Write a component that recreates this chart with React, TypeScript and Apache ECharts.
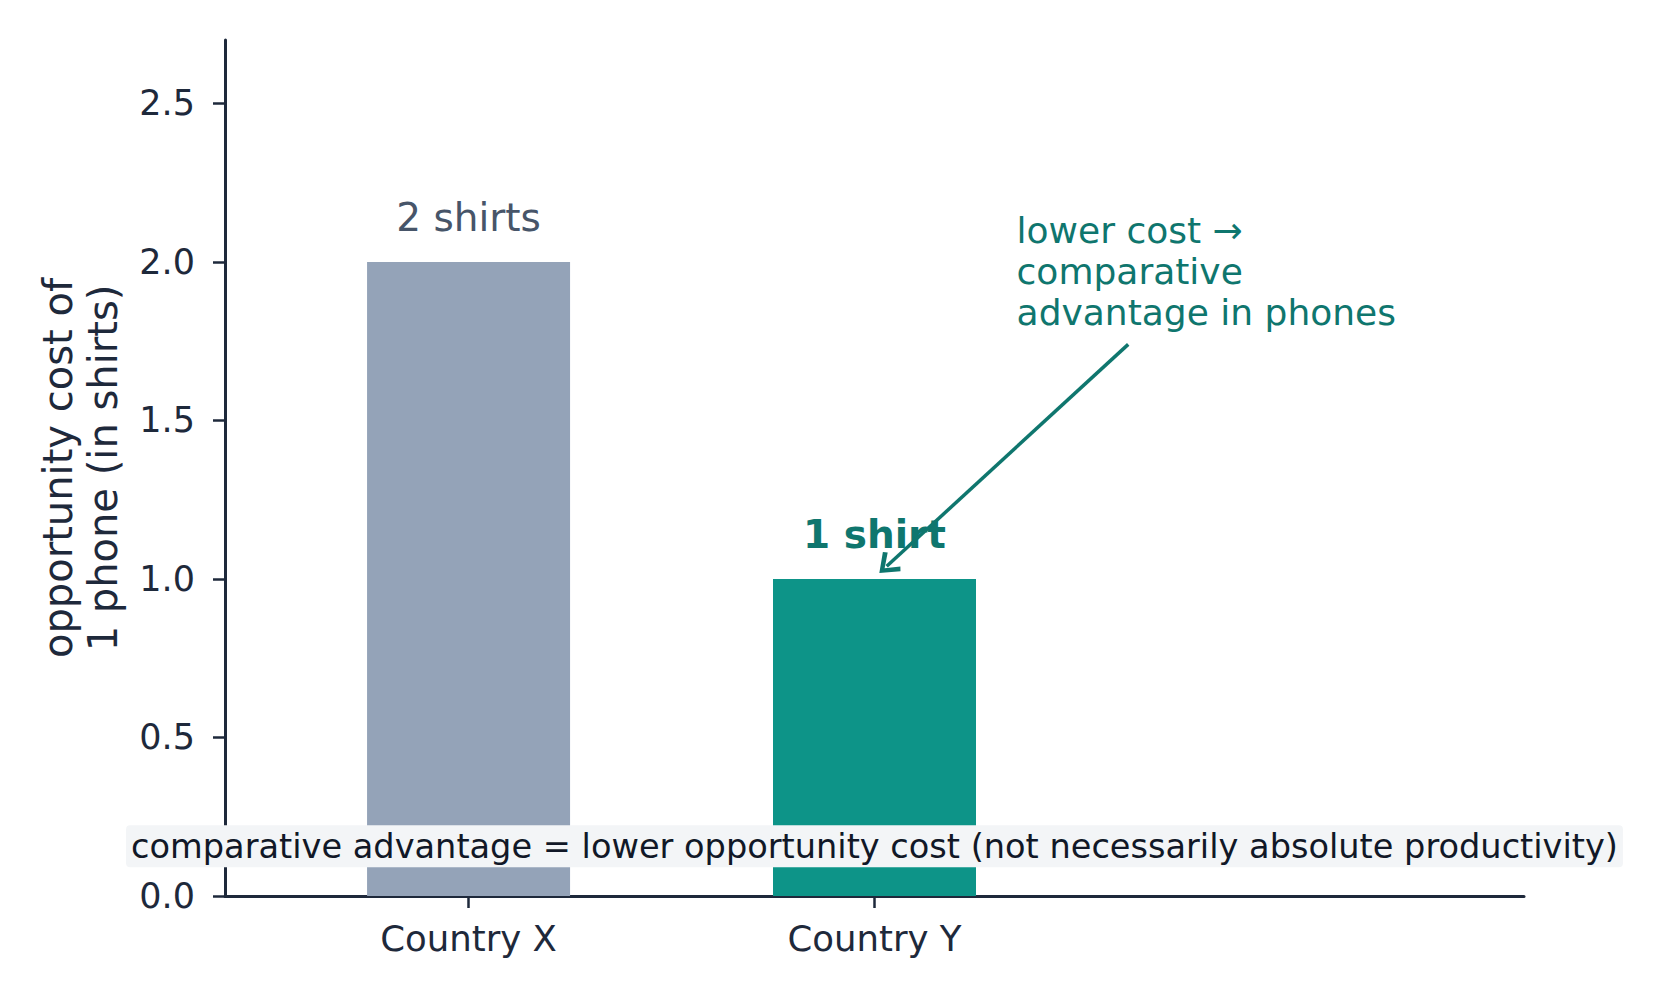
import React, { useEffect, useRef } from 'react';
import * as echarts from 'echarts';

// chart data
const countries = ['Country X', 'Country Y'];
const costs = [2, 1];
const barLabels = ['2 shirts', '1 shirt'];
const yTicks = [0, 0.5, 1, 1.5, 2, 2.5];
const xTicks = [0, 1];

// annotation anchors, in data units
const calloutText = 'lower cost →\ncomparative\nadvantage in phones';
const calloutAt = [1.35, 1.97];
const arrowFrom = [1.625, 1.74];
const arrowTo = [1.03, 1.04];
const noteText = 'comparative advantage = lower opportunity cost (not necessarily absolute productivity)';
const noteAt = [1.0, 0.157];

const INK = '#1e293b';
const TEAL = '#0f766e';
const FONT = 'DejaVu Sans';
const barColors = ['#94a3b8', '#0d9488'];
const labelColors = ['#475569', TEAL];
const labelWeights = ['normal', 'bold'];

// open "->" head, tip on top
const chevron = 'path://M50,0 L100,84 L86,100 L50,36 L14,100 L0,84 Z';

const App: React.FC = () => {
  const chartRef = useRef<HTMLDivElement>(null);

  useEffect(() => {
    if (!chartRef.current) return;
    const chart = echarts.init(chartRef.current, undefined, { renderer: 'svg' });

    const option: echarts.EChartsOption = {
      animation: false,
      backgroundColor: '#ffffff',
      textStyle: { fontFamily: FONT },
      grid: { left: 225, right: 133, top: 40, bottom: 104, containLabel: false },
      xAxis: {
        type: 'value',
        min: -0.6,
        max: 2.6,
        splitLine: { show: false },
        axisLine: { show: true, onZero: false, lineStyle: { color: INK, width: 3 } },
        axisTick: { show: true, customValues: xTicks, length: 12, lineStyle: { color: INK, width: 2.5 } },
        axisLabel: {
          customValues: xTicks,
          formatter: (v: number) => countries[Math.round(v)] ?? '',
          color: INK,
          fontSize: 35.5,
          fontFamily: FONT,
          margin: 24,
        },
      },
      yAxis: {
        type: 'value',
        min: 0,
        max: 2.7,
        name: 'opportunity cost of\n1 phone (in shirts)',
        nameLocation: 'middle',
        nameRotate: 90,
        nameGap: 100,
        nameTextStyle: { color: INK, fontSize: 40, lineHeight: 45, fontFamily: FONT },
        splitLine: { show: false },
        axisLine: { show: true, onZero: false, lineStyle: { color: INK, width: 3 } },
        axisTick: { show: true, customValues: yTicks, length: 12, lineStyle: { color: INK, width: 2.5 } },
        axisLabel: {
          customValues: yTicks,
          formatter: (v: number) => v.toFixed(1),
          color: INK,
          fontSize: 35,
          fontFamily: FONT,
          margin: 30,
        },
      },
      series: [
        {
          type: 'bar',
          barWidth: 203,
          data: costs.map((v, i) => ({
            value: [i, v],
            itemStyle: { color: barColors[i] },
            label: { color: labelColors[i], fontWeight: labelWeights[i] as any },
          })),
          label: {
            show: true,
            position: 'top',
            distance: 25,
            fontSize: 39,
            fontFamily: FONT,
            formatter: (p: any) => barLabels[p.dataIndex],
          },
          markLine: {
            silent: true,
            symbol: ['none', chevron],
            symbolSize: [26, 20],
            lineStyle: { color: TEAL, width: 3.5, type: 'solid' },
            label: { show: false },
            data: [[{ coord: arrowFrom }, { coord: arrowTo }]] as any,
          },
          markPoint: {
            silent: true,
            symbol: 'circle',
            symbolSize: 0,
            data: [
              {
                coord: calloutAt,
                label: {
                  show: true,
                  position: 'right',
                  distance: 0,
                  align: 'left',
                  verticalAlign: 'middle',
                  formatter: calloutText,
                  color: TEAL,
                  fontSize: 36,
                  lineHeight: 41,
                  fontFamily: FONT,
                },
              },
              {
                coord: noteAt,
                label: {
                  show: true,
                  position: 'inside',
                  align: 'center',
                  verticalAlign: 'middle',
                  formatter: noteText,
                  color: '#111827',
                  fontSize: 33.6,
                  fontFamily: FONT,
                  backgroundColor: '#f3f5f7',
                  borderRadius: 4,
                  padding: [4, 5, 4, 5],
                },
              },
            ] as any,
          },
        },
      ],
    };

    chart.setOption(option);
    return () => chart.dispose();
  }, []);

  return (
    <div
      ref={chartRef}
      style={{ position: 'fixed', left: 0, top: 0, width: 1657, height: 1000 }}
    />
  );
};

export default App;
